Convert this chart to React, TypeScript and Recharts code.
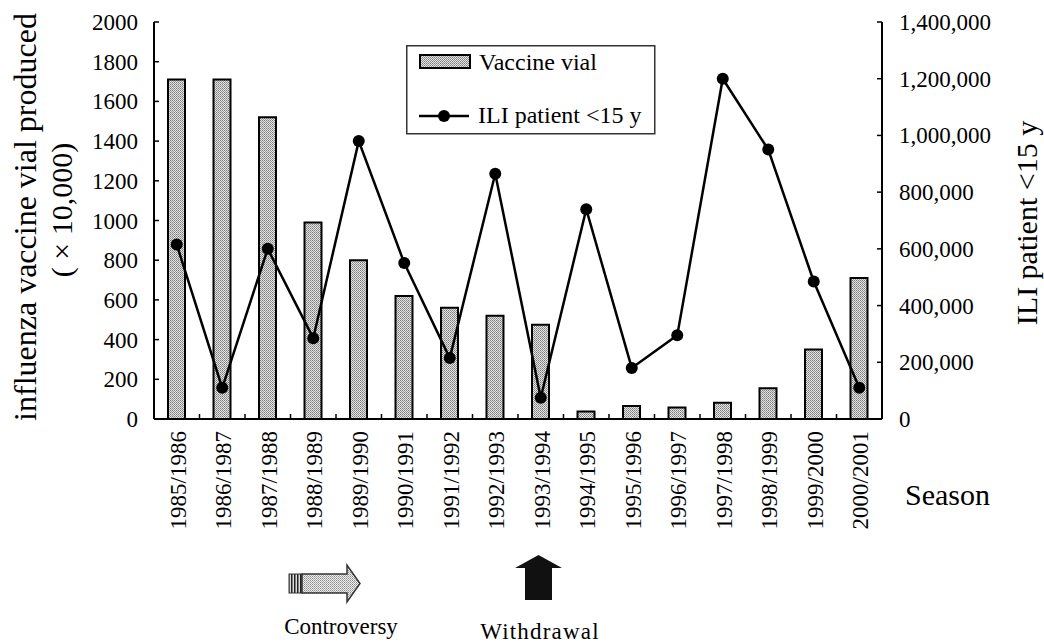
import React from 'react';
import { ComposedChart, Bar, Line, XAxis, YAxis, Legend } from 'recharts';

const seasons = [
  '1985/1986', '1986/1987', '1987/1988', '1988/1989', '1989/1990', '1990/1991',
  '1991/1992', '1992/1993', '1993/1994', '1994/1995', '1995/1996', '1996/1997',
  '1997/1998', '1998/1999', '1999/2000', '2000/2001',
];
const vaccineVials = [1710, 1710, 1520, 990, 800, 620, 560, 520, 475, 38, 65, 58, 82, 155, 350, 710];
const iliPatients = [
  615000, 110000, 600000, 285000, 980000, 550000, 215000, 865000,
  75000, 740000, 180000, 295000, 1200000, 950000, 485000, 110000,
];
const leftTicks = [0, 200, 400, 600, 800, 1000, 1200, 1400, 1600, 1800, 2000];
const rightTicks = [0, 200000, 400000, 600000, 800000, 1000000, 1200000, 1400000];

const data = seasons.map((s, i) => ({ season: s, vial: vaccineVials[i], ili: iliPatients[i] }));

const FONT = '"Liberation Serif", "Times New Roman", Times, serif';

const SeasonTick = (props: any) => {
  const { x, y, payload, index, visibleTicksCount } = props;
  const off = payload && payload.offset ? payload.offset : 0;
  const axisY = y - 12;
  return (
    <g>
      <line x1={x - off} x2={x - off} y1={axisY} y2={axisY - 5} stroke="#000" strokeWidth={1.5} />
      {index === visibleTicksCount - 1 && (
        <line x1={x + off} x2={x + off} y1={axisY} y2={axisY - 5} stroke="#000" strokeWidth={1.5} />
      )}
      <text
        x={x}
        y={y}
        transform={`rotate(-90, ${x}, ${y})`}
        textAnchor="end"
        dy="0.4em"
        fontSize={23}
        fontFamily={FONT}
        fill="#000"
      >
        {payload.value}
      </text>
    </g>
  );
};

const LeftTick = (props: any) => {
  const { x, y, payload } = props;
  const axisX = x + 16;
  return (
    <g>
      <line x1={axisX} x2={axisX + 5} y1={y} y2={y} stroke="#000" strokeWidth={1.5} />
      <text x={x} y={y} dy="0.35em" textAnchor="end" fontSize={23} fontFamily={FONT} fill="#000">
        {payload.value}
      </text>
    </g>
  );
};

const RightTick = (props: any) => {
  const { x, y, payload } = props;
  const axisX = x - 17;
  return (
    <g>
      <line x1={axisX} x2={axisX - 5} y1={y} y2={y} stroke="#000" strokeWidth={1.5} />
      <text x={x} y={y} dy="0.35em" textAnchor="start" fontSize={23} fontFamily={FONT} fill="#000">
        {Number(payload.value).toLocaleString('en-US')}
      </text>
    </g>
  );
};

const Patterns = ({ prefix }: { prefix: string }) => (
  <defs>
    <pattern id={`${prefix}dots`} width="2" height="2" patternUnits="userSpaceOnUse">
      <rect width="2" height="2" fill="#e4e4e4" />
      <rect width="1" height="1" fill="#7a7a7a" />
      <rect x="1" y="1" width="1" height="1" fill="#9a9a9a" />
    </pattern>
    <pattern id={`${prefix}dotsLight`} width="2" height="2" patternUnits="userSpaceOnUse">
      <rect width="2" height="2" fill="#eeeeee" />
      <rect width="1" height="1" fill="#8a8a8a" />
      <rect x="1" y="1" width="1" height="1" fill="#b0b0b0" />
    </pattern>
    <pattern id={`${prefix}stripes`} width="3" height="3" patternUnits="userSpaceOnUse">
      <rect width="3" height="3" fill="#dddddd" />
      <rect width="1.5" height="3" fill="#222" />
    </pattern>
  </defs>
);

const LegendBox = () => (
  <svg width={250} height={90} style={{ display: 'block' }}>
    <Patterns prefix="lg" />
    <rect x={0.75} y={0.75} width={248} height={88} fill="#fff" stroke="#333" strokeWidth={1.5} />
    <rect x={14} y={10} width={50} height={13} fill="url(#lgdots)" stroke="#000" strokeWidth={2} />
    <text x={73} y={25} fontSize={24} fontFamily={FONT} fill="#000">Vaccine vial</text>
    <line x1={13} x2={63} y1={71} y2={71} stroke="#000" strokeWidth={2.5} />
    <circle cx={38} cy={71} r={6} fill="#000" />
    <text x={72} y={78} fontSize={24} fontFamily={FONT} fill="#000">ILI patient &lt;15 y</text>
  </svg>
);

export default function App() {
  return (
    <div style={{ position: 'absolute', left: 0, top: 0, width: 1044, height: 643, background: '#fff' }}>
      <ComposedChart
        width={1044}
        height={643}
        data={data}
        margin={{ top: 22, right: 0, bottom: 0, left: 0 }}
      >
        <Patterns prefix="ch" />
        <XAxis
          dataKey="season"
          height={224}
          interval={0}
          tickLine={false}
          tickSize={0}
          tickMargin={12}
          axisLine={{ stroke: '#000', strokeWidth: 2 }}
          tick={<SeasonTick />}
        />
        <YAxis
          yAxisId="left"
          orientation="left"
          width={154}
          domain={[0, 2000]}
          ticks={leftTicks}
          interval={0}
          tickLine={false}
          tickSize={0}
          tickMargin={16}
          axisLine={{ stroke: '#000', strokeWidth: 2 }}
          tick={<LeftTick />}
        />
        <YAxis
          yAxisId="right"
          orientation="right"
          width={162}
          domain={[0, 1400000]}
          ticks={rightTicks}
          interval={0}
          tickLine={false}
          tickSize={0}
          tickMargin={17}
          axisLine={{ stroke: '#000', strokeWidth: 2 }}
          tick={<RightTick />}
        />
        <Bar
          yAxisId="left"
          dataKey="vial"
          name="Vaccine vial"
          barSize={17}
          fill="url(#chdots)"
          stroke="#000"
          strokeWidth={2}
          isAnimationActive={false}
        />
        <Line
          yAxisId="right"
          dataKey="ili"
          name="ILI patient <15 y"
          type="linear"
          stroke="#000"
          strokeWidth={2.5}
          dot={{ r: 6, fill: '#000', stroke: '#000', strokeWidth: 0 }}
          activeDot={false}
          isAnimationActive={false}
        />
        <Legend
          layout="horizontal"
          verticalAlign="middle"
          align="center"
          wrapperStyle={{ position: 'absolute', left: 406, top: 45, width: 250, height: 90 }}
          content={() => <LegendBox />}
        />

        {/* axis titles */}
        <text
          x={36}
          y={217}
          transform="rotate(-90, 36, 217)"
          textAnchor="middle"
          fontSize={32}
          fontFamily={FONT}
          fill="#000"
        >
          influenza vaccine vial produced
        </text>
        <text
          x={72}
          y={210}
          transform="rotate(-90, 72, 210)"
          textAnchor="middle"
          fontSize={30}
          fontFamily={FONT}
          fill="#000"
        >
          ( × 10,000)
        </text>
        <text
          x={1037}
          y={223}
          transform="rotate(-90, 1037, 223)"
          textAnchor="middle"
          fontSize={30}
          fontFamily={FONT}
          fill="#000"
        >
          ILI patient &lt;15 y
        </text>
        <text x={905} y={505} fontSize={30} fontFamily={FONT} fill="#000">Season</text>

        {/* annotations */}
        <rect x={289} y={574} width={13} height={19} fill="url(#chstripes)" stroke="#333" strokeWidth={1} />
        <polygon
          points="302,574 347,574 347,565 360,583.5 347,602 347,593 302,593"
          fill="url(#chdotsLight)"
          stroke="#333"
          strokeWidth={1.5}
        />
        <text x={341} y={634} textAnchor="middle" fontSize={23} fontFamily={FONT} fill="#000">Controversy</text>
        <polygon
          points="538.5,555 562,568 552,568 552,600 525,600 525,568 515,568"
          fill="#111"
        />
        <text x={540} y={639} textAnchor="middle" fontSize={23} fontFamily={FONT} fill="#000" letterSpacing={1.2}>
          Withdrawal
        </text>
      </ComposedChart>
    </div>
  );
}
